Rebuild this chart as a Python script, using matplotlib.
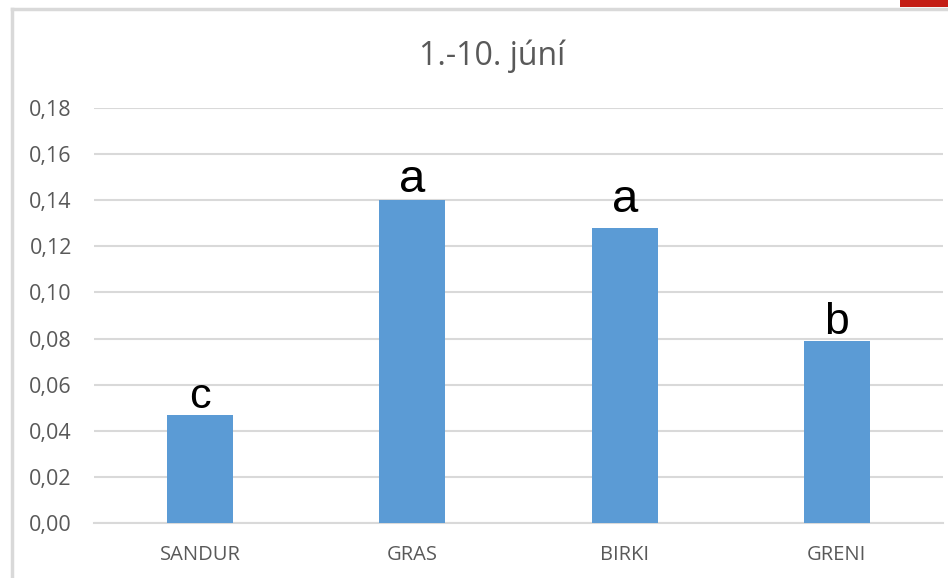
import matplotlib
matplotlib.use("Agg")
import matplotlib.pyplot as plt
from matplotlib.lines import Line2D
from matplotlib.patches import Rectangle

# Data
categories = ["SANDUR", "GRAS", "BIRKI", "GRENI"]
values = [0.047, 0.140, 0.128, 0.079]
letters = ["c", "a", "a", "b"]
title = "1.-10. júní"
yticks = [0.00, 0.02, 0.04, 0.06, 0.08, 0.10, 0.12, 0.14, 0.16, 0.18]

BAR = "#5b9bd5"
GRID = "#d9d9d9"
TXT = "#595959"

W, H = 948, 578
fig = plt.figure(figsize=(W / 100, H / 100), dpi=100)
fig.patch.set_facecolor("white")

ax = fig.add_axes([94 / W, 55 / H, (943 - 94) / W, 415 / H])
ax.set_xlim(-0.5, len(categories) - 0.5)
ax.set_ylim(0, 0.18)

x = list(range(len(categories)))
bars = ax.bar(x, values, width=0.31, color=BAR, zorder=3)

ax.set_yticks(yticks)
ax.set_yticklabels([f"{v:.2f}".replace(".", ",") for v in yticks],
                   fontsize=15.5, color=TXT, family="Open Sans")
ax.set_xticks(x)
ax.set_xticklabels(categories, fontsize=14.5, color=TXT, family="Open Sans")
ax.tick_params(axis="y", length=0, pad=16)
ax.tick_params(axis="x", length=0, pad=16)
ax.grid(axis="y", color=GRID, linewidth=1.5, zorder=0)
for s in ["top", "right", "left"]:
    ax.spines[s].set_visible(False)
ax.spines["bottom"].set_color(GRID)
ax.spines["bottom"].set_linewidth(1.5)

# significance letters above each bar
letter_offsets = [4.5, 6, 11.5, 5]
letter_sizes = [31, 34, 34, 32]
for xi, v, lt, off, fs in zip(x, values, letters, letter_offsets, letter_sizes):
    ax.annotate(lt, (xi, v), xytext=(0, off), textcoords="offset points",
                ha="center", va="baseline", fontsize=fs, color="black",
                family="Liberation Sans")

fig.text(492 / W, 1 - 56 / H, title, ha="center", va="center",
         fontsize=23, color=TXT, family="Open Sans")

# chart frame edges and the red corner
fig.add_artist(Line2D([11.5 / W, 11.5 / W], [0, 1 - 8.5 / H],
                      transform=fig.transFigure, color=GRID, linewidth=2.5))
fig.add_artist(Line2D([11.5 / W, 1], [1 - 8.5 / H, 1 - 8.5 / H],
                      transform=fig.transFigure, color=GRID, linewidth=2.5))
fig.add_artist(Rectangle((900 / W, 1 - 7 / H), 48 / W, 7 / H,
                         transform=fig.transFigure, color="#c41e16", linewidth=0))

fig.savefig("out.png", dpi=100)
